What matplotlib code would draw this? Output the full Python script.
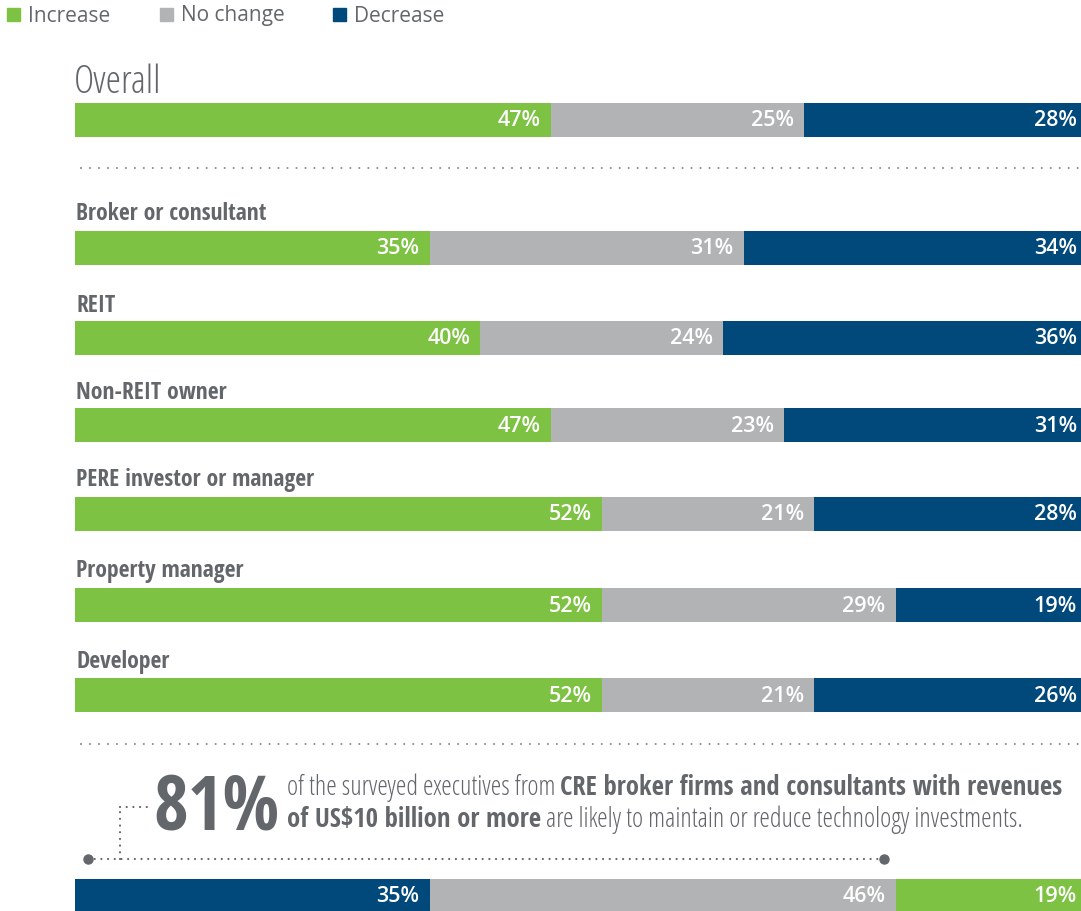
import matplotlib
matplotlib.use('Agg')
import matplotlib.pyplot as plt

W, H = 1081, 911

series = ['Increase', 'No change', 'Decrease']
colors = ['#7dc242', '#b1b3b4', '#00497a']

categories = ['Broker or consultant', 'REIT', 'Non-REIT owner',
              'PERE investor or manager', 'Property manager', 'Developer']
overall = [47, 25, 28]
increase = [35, 40, 47, 52, 52, 52]
no_change = [31, 24, 23, 21, 29, 21]
decrease = [34, 36, 31, 28, 19, 26]

# bottom bar of the callout is ordered Decrease, No change, Increase
callout_vals = [35, 46, 19]
callout_cols = ['#00497a', '#b1b3b4', '#7dc242']

GREY = '#63666a'
BOLD_C = dict(family=['Open Sans Condensed', 'Liberation Sans Narrow', 'DejaVu Sans'],
              fontweight='bold')
LIGHT_C = dict(family=['Open Sans', 'DejaVu Sans'], fontweight='light',
               fontstretch='condensed')
OPEN = ['Open Sans', 'DejaVu Sans']

fig = plt.figure(figsize=(W / 100, H / 100), dpi=100)
# 100 % spans 1013 px, so the last segment runs slightly past the right edge
ax = fig.add_axes([75 / W, 0, 1013 / W, 1])
ax.set_xlim(0, 100)
ax.set_ylim(H, 0)
ax.axis('off')
edge = (W - 75) / 1013 * 100  # data x of the figure's right edge


def px(x, y):
    return x / W, 1 - y / H


def stacked(yc, vals, cols, h=34):
    left = 0
    for i, (v, c) in enumerate(zip(vals, cols)):
        last = i == len(vals) - 1
        w = max(v, edge - left) if last else v
        ax.barh(yc, w, left=left, height=h, color=c, linewidth=0)
        xr = edge - 0.4 if last else left + v - 1.0
        ax.text(xr, yc + 1, f'{v}%', ha='right', va='center',
                color='white', fontsize=15.5, fontweight='semibold', family=OPEN)
        left += v


# legend
lx = [7, 160, 333]
for x, s, c in zip(lx, series, colors):
    fig.patches.append(plt.Rectangle(px(x, 21), 13 / W, 13 / H, color=c,
                                     transform=fig.transFigure))
    fig.text(*px(x + 21, 16), s, fontsize=15, color=GREY, va='center',
             family=OPEN)

# overall
fig.text(*px(74, 93), 'Overall', fontsize=28, color=GREY, va='baseline',
         **LIGHT_C)
stacked(120, overall, colors)

# dotted separators
for y in [168, 744]:
    ax.plot([-0.3, 100], [y, y], ls=(0, (0.01, 4.3)), color='#8a8c8f', lw=1.5,
            dash_capstyle='round')

label_y = [220, 312, 399, 486, 577, 668]
bar_y = [248, 338, 425, 514, 605, 695]
for i, cat in enumerate(categories):
    fig.text(*px(76, label_y[i]), cat, fontsize=17, color=GREY,
             va='baseline', **BOLD_C)
    stacked(bar_y[i], [increase[i], no_change[i], decrease[i]], colors)

# callout
fig.text(*px(153, 830), '81%', fontsize=54, color=GREY, va='baseline',
         ha='left', **BOLD_C)

fig.canvas.draw()
r = fig.canvas.get_renderer()


def rich(x, y, parts, size=19.2):
    for s, st in parts:
        t = fig.text(*px(x, y), s, fontsize=size, color=GREY, va='baseline',
                     **st)
        x += t.get_window_extent(renderer=r).width


rich(287, 795, [('of the surveyed executives from ', LIGHT_C),
                ('CRE broker firms and consultants with revenues', BOLD_C)])
rich(287, 827, [('of US$10 billion or more', BOLD_C),
                (' are likely to maintain or reduce technology investments.',
                 LIGHT_C)])

dot = dict(ls=(0, (0.01, 3.0)), color=GREY, lw=1.6, dash_capstyle='round',
           transform=fig.transFigure)
fig.lines.append(plt.Line2D([88 / W, 884 / W], [1 - 859 / H] * 2, **dot))
fig.lines.append(plt.Line2D([120 / W] * 2, [1 - 859 / H, 1 - 807 / H], **dot))
fig.lines.append(plt.Line2D([120 / W, 152 / W], [1 - 807 / H] * 2, **dot))
fig.lines.append(plt.Line2D([88 / W, 884 / W], [1 - 859 / H] * 2, ls='none',
                            marker='o', ms=6.5, color=GREY,
                            transform=fig.transFigure))

stacked(896, callout_vals, callout_cols)

fig.savefig('out.png')
